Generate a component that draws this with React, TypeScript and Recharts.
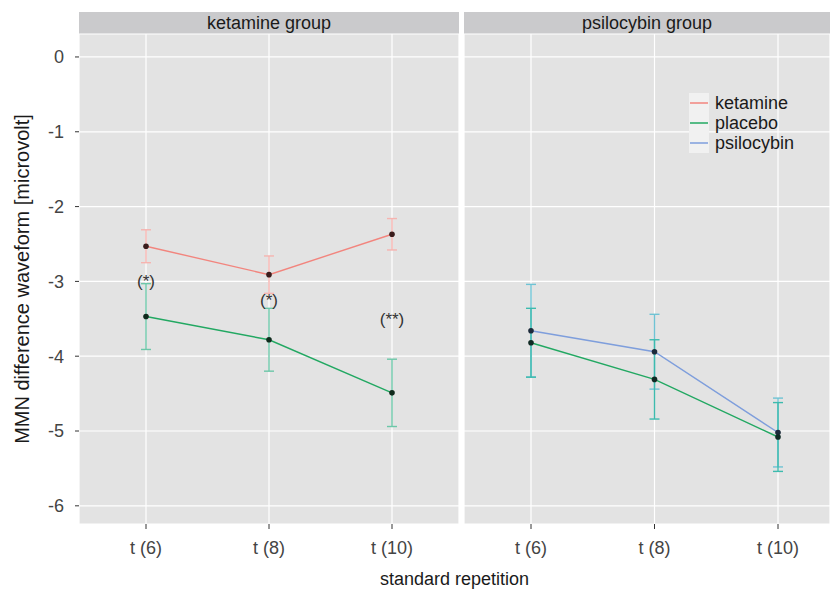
import React from 'react';
import {
  LineChart,
  Line,
  XAxis,
  YAxis,
  CartesianGrid,
  ErrorBar,
  LabelList,
  Legend,
  Label,
} from 'recharts';

const categories = ['t (6)', 't (8)', 't (10)'];

// ketamine group panel
const ketKetamine = [-2.53, -2.91, -2.37];
const ketKetamineSe = [0.22, 0.25, 0.21];
const ketPlacebo = [-3.47, -3.78, -4.49];
const ketPlaceboSe = [0.44, 0.42, 0.45];
const sigMarks = ['(*)', '(*)', '(**)'];
const sigHeights = [-3.0, -3.25, -3.5];

// psilocybin group panel
const psiPsilocybin = [-3.66, -3.94, -5.02];
const psiPsilocybinSe = [0.62, 0.5, 0.46];
const psiPlacebo = [-3.82, -4.31, -5.08];
const psiPlaceboSe = [0.46, 0.53, 0.46];

const yTicks = [0, -1, -2, -3, -4, -5, -6];
const panelTitles = ['ketamine group', 'psilocybin group'];
const legendNames = ['ketamine', 'placebo', 'psilocybin'];

const FONT = '"Liberation Sans", Arial, Helvetica, sans-serif';
const Y_DOMAIN: [number, number] = [-6.243, 0.307];

const colors = {
  ketamine: '#F2857E',
  placebo: '#22A862',
  psilocybin: '#7E9EDC',
};
const errColors = {
  ketamine: '#F6B4B0',
  placeboLeft: '#6CC7A8',
  placeboRight: '#3DBBAE',
  psilocybin: '#6FC3D4',
};
const legendColors = [colors.ketamine, colors.placebo, colors.psilocybin];

const leftData = categories.map((cat, i) => ({
  cat,
  ketamine: ketKetamine[i],
  ketamineSe: ketKetamineSe[i],
  placebo: ketPlacebo[i],
  placeboSe: ketPlaceboSe[i],
  sigY: sigHeights[i],
  sig: sigMarks[i],
}));

const rightData = categories.map((cat, i) => ({
  cat,
  psilocybin: psiPsilocybin[i],
  psilocybinSe: psiPsilocybinSe[i],
  placebo: psiPlacebo[i],
  placeboSe: psiPlaceboSe[i],
}));

const tickStyle = { fontSize: 18, fill: '#444444', fontFamily: FONT };

const YTitle = (props: any) => {
  const vb = props.viewBox || { x: 0, y: 34, width: 79, height: 490 };
  const cx = vb.x + 22;
  const cy = vb.y + vb.height / 2;
  return (
    <text
      x={cx}
      y={cy}
      transform={`rotate(-90 ${cx} ${cy})`}
      textAnchor="middle"
      dominantBaseline="central"
      fontSize={20}
      fill="#1A1A1A"
      fontFamily={FONT}
    >
      MMN difference waveform [microvolt]
    </text>
  );
};

const LegendBox = () => (
  <div style={{ fontFamily: FONT }}>
    {legendNames.map((n, i) => (
      <div key={n} style={{ display: 'flex', alignItems: 'center', height: 20 }}>
        <svg width={20} height={20} style={{ background: '#F1F1F1', display: 'block' }}>
          <line x1={1} x2={19} y1={10} y2={10} stroke={legendColors[i]} strokeWidth={1.5} />
        </svg>
        <span style={{ marginLeft: 6, fontSize: 18, color: '#1A1A1A', lineHeight: '20px' }}>{n}</span>
      </div>
    ))}
  </div>
);

const dotStyle = (fill: string) => ({ r: 2.8, fill, stroke: fill, strokeWidth: 0 });

function Strip({ left, width, title }: { left: number; width: number; title: string }) {
  return (
    <div
      style={{
        position: 'absolute',
        left,
        top: 12,
        width,
        height: 22,
        background: '#CACACC',
        color: '#1A1A1A',
        fontFamily: FONT,
        fontSize: 18,
        lineHeight: '22px',
        textAlign: 'center',
      }}
    >
      {title}
    </div>
  );
}

export default function App() {
  return (
    <div style={{ position: 'absolute', left: 0, top: 0, width: 830, height: 592, background: '#FFFFFF', overflow: 'hidden' }}>
      <Strip left={79} width={380} title={panelTitles[0]} />
      <Strip left={464} width={366} title={panelTitles[1]} />

      <div style={{ position: 'absolute', left: 0, top: 0 }}>
        <LineChart width={460} height={592} data={leftData} margin={{ top: 34, right: 1, bottom: 38, left: 0 }}>
          <CartesianGrid fill="#E3E3E3" stroke="#FFFFFF" strokeWidth={1.2} />
          <XAxis
            dataKey="cat"
            padding={{ left: 67, right: 67 }}
            height={30}
            interval={0}
            axisLine={false}
            tickSize={5}
            tickMargin={12}
            tickLine={{ stroke: '#333333' }}
            tick={tickStyle}
          />
          <YAxis
            type="number"
            domain={Y_DOMAIN}
            ticks={yTicks}
            allowDataOverflow
            interval={0}
            width={79}
            axisLine={false}
            tickSize={4}
            tickMargin={11}
            tickLine={{ stroke: '#333333' }}
            tick={tickStyle}
          >
            <Label content={YTitle} />
          </YAxis>
          <Line
            dataKey="ketamine"
            stroke={colors.ketamine}
            strokeWidth={1.4}
            dot={dotStyle('#3A1C1C')}
            activeDot={false}
            isAnimationActive={false}
          >
            <ErrorBar dataKey="ketamineSe" width={5} stroke={errColors.ketamine} strokeWidth={1.4} direction="y" />
          </Line>
          <Line
            dataKey="placebo"
            stroke={colors.placebo}
            strokeWidth={1.4}
            dot={dotStyle('#102A1C')}
            activeDot={false}
            isAnimationActive={false}
          >
            <ErrorBar dataKey="placeboSe" width={5} stroke={errColors.placeboLeft} strokeWidth={1.4} direction="y" />
          </Line>
          <Line dataKey="sigY" stroke="none" dot={false} activeDot={false} isAnimationActive={false} legendType="none">
            <LabelList dataKey="sig" position="center" fontSize={17} fill="#333333" fontFamily={FONT} />
          </Line>
        </LineChart>
      </div>

      <div style={{ position: 'absolute', left: 460, top: 0 }}>
        <LineChart width={370} height={592} data={rightData} margin={{ top: 34, right: 0, bottom: 38, left: 4 }}>
          <CartesianGrid fill="#E3E3E3" stroke="#FFFFFF" strokeWidth={1.2} />
          <XAxis
            dataKey="cat"
            padding={{ left: 67, right: 52 }}
            height={30}
            interval={0}
            axisLine={false}
            tickSize={5}
            tickMargin={12}
            tickLine={{ stroke: '#333333' }}
            tick={tickStyle}
          />
          <YAxis hide type="number" domain={Y_DOMAIN} ticks={yTicks} allowDataOverflow interval={0} />
          <Legend
            layout="horizontal"
            verticalAlign="middle"
            align="center"
            wrapperStyle={{ position: 'absolute', left: 229, top: 93, width: 120, height: 60 }}
            content={LegendBox}
          />
          <Line
            dataKey="psilocybin"
            stroke={colors.psilocybin}
            strokeWidth={1.4}
            dot={dotStyle('#1C2A3A')}
            activeDot={false}
            isAnimationActive={false}
          >
            <ErrorBar dataKey="psilocybinSe" width={5} stroke={errColors.psilocybin} strokeWidth={1.4} direction="y" />
          </Line>
          <Line
            dataKey="placebo"
            stroke={colors.placebo}
            strokeWidth={1.4}
            dot={dotStyle('#102A24')}
            activeDot={false}
            isAnimationActive={false}
          >
            <ErrorBar dataKey="placeboSe" width={5} stroke={errColors.placeboRight} strokeWidth={1.4} direction="y" />
          </Line>
        </LineChart>
      </div>

      <div
        style={{
          position: 'absolute',
          left: 79,
          width: 751,
          top: 567,
          textAlign: 'center',
          fontFamily: FONT,
          fontSize: 18,
          lineHeight: '24px',
          color: '#1A1A1A',
        }}
      >
        standard repetition
      </div>
    </div>
  );
}
